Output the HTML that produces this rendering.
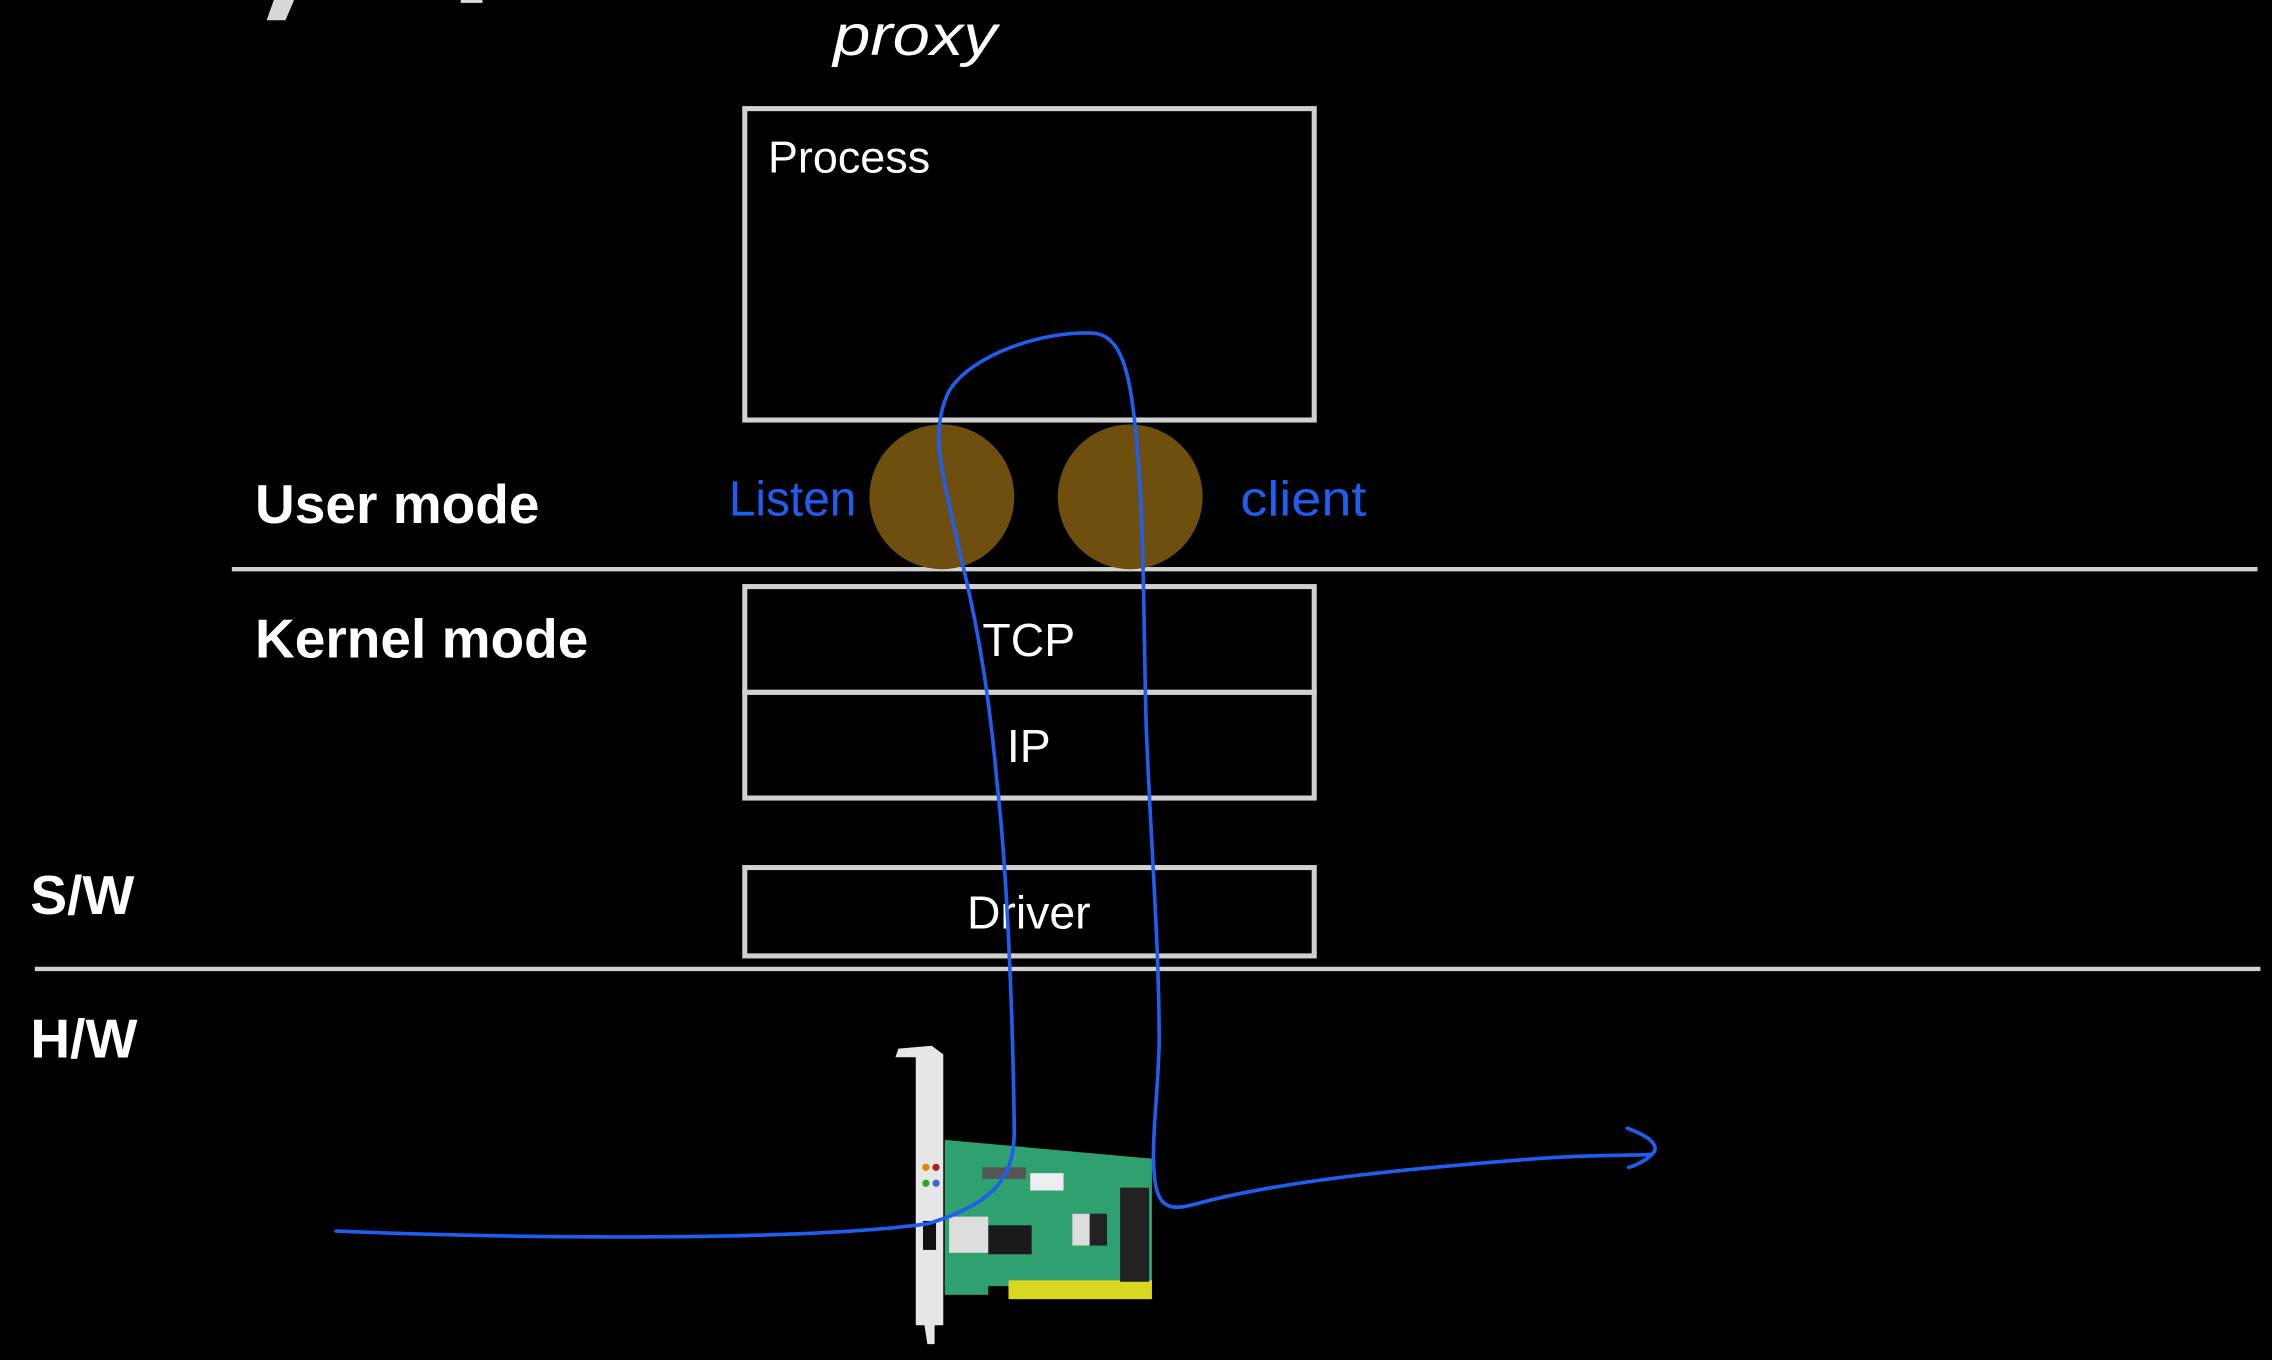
<!DOCTYPE html>
<html><head><meta charset="utf-8"><style>
html,body{margin:0;padding:0;background:#000;}
svg{display:block;}
</style></head><body>
<svg width="2272" height="1360" viewBox="0 0 1568 939" preserveAspectRatio="none" xmlns="http://www.w3.org/2000/svg">
<rect width="1568" height="939" fill="#000"/>
<g fill="#d8d8d8">
<polygon points="189,0 203,0 197,14 184,14"/>
<rect x="318" y="0" width="15" height="2"/>
</g>
<text x="575" y="38" textLength="113" lengthAdjust="spacingAndGlyphs" font-family="'Liberation Sans',sans-serif" font-size="40" fill="#fff" font-style="italic">proxy</text>
<rect x="514" y="75" width="393" height="215" fill="none" stroke="#d0d0d0" stroke-width="3.5"/>
<text x="530" y="119" font-family="'Liberation Sans',sans-serif" font-size="31" fill="#fff">Process</text>
<text x="176" y="361" font-family="'Liberation Sans',sans-serif" font-size="38" font-weight="bold" fill="#fff">User mode</text>
<line x1="160" y1="393" x2="1558" y2="393" stroke="#d0d0d0" stroke-width="3"/>
<text x="176" y="454" font-family="'Liberation Sans',sans-serif" font-size="38" font-weight="bold" fill="#fff">Kernel mode</text>
<circle cx="650" cy="343" r="50" fill="#6e4f0d"/>
<circle cx="780" cy="343" r="50" fill="#6e4f0d"/>
<text x="503" y="356" textLength="88" lengthAdjust="spacingAndGlyphs" font-family="'Liberation Sans',sans-serif" font-size="34" fill="#1f5ef0">Listen</text>
<text x="856" y="356" textLength="87" lengthAdjust="spacingAndGlyphs" font-family="'Liberation Sans',sans-serif" font-size="34" fill="#1f5ef0">client</text>
<rect x="514" y="405" width="393" height="73" fill="none" stroke="#d0d0d0" stroke-width="3.5"/>
<text x="710" y="453" text-anchor="middle" font-family="'Liberation Sans',sans-serif" font-size="32" fill="#fff">TCP</text>
<rect x="514" y="478" width="393" height="73" fill="none" stroke="#d0d0d0" stroke-width="3.5"/>
<text x="710" y="526" text-anchor="middle" font-family="'Liberation Sans',sans-serif" font-size="32" fill="#fff">IP</text>
<text x="21" y="631" font-family="'Liberation Sans',sans-serif" font-size="38" font-weight="bold" fill="#fff">S/W</text>
<rect x="514" y="599" width="393" height="61" fill="none" stroke="#d0d0d0" stroke-width="3.5"/>
<text x="710" y="641" text-anchor="middle" font-family="'Liberation Sans',sans-serif" font-size="32" fill="#fff">Driver</text>
<line x1="24" y1="669" x2="1560" y2="669" stroke="#d0d0d0" stroke-width="3"/>
<text x="21" y="730" font-family="'Liberation Sans',sans-serif" font-size="38" font-weight="bold" fill="#fff">H/W</text>
<g>
<polygon points="652,787 795,800 795,888 652,888" fill="#2fa070"/>
<rect x="696" y="884" width="99" height="13" fill="#d8d820"/>
<rect x="652" y="884" width="30" height="10" fill="#2fa070"/>
<rect x="773" y="820" width="20" height="65" fill="#222"/>
<rect x="682" y="846" width="30" height="20" fill="#1a1a1a"/>
<rect x="740" y="838" width="24" height="22" fill="#222"/>
<rect x="740" y="838" width="12" height="22" fill="#ddd"/>
<rect x="655" y="840" width="27" height="25" fill="#ddd"/>
<rect x="711" y="810" width="23" height="12" fill="#eee"/>
<rect x="678" y="806" width="30" height="8" fill="#555"/>
<polygon points="620,724 643,722 651,728 651,915 645,915 645,928 640,928 638,915 632,915 632,730 618,730" fill="#e6e6e6"/>
<circle cx="639" cy="806" r="2.5" fill="#d80"/><circle cx="646" cy="806" r="2.5" fill="#a22"/>
<circle cx="639" cy="817" r="2.5" fill="#2a2"/><circle cx="646" cy="817" r="2.5" fill="#46c"/>
<rect x="637" y="843" width="9" height="20" fill="#111"/>
</g>
<path d="M232,850 C380,856 560,856 640,845 C690,830 700,810 700,780 C699,700 695,600 688,540 C682,470 672,420 662,380 C652,330 640,300 655,270 C670,245 720,228 755,230 C775,232 780,260 784,300 C790,360 789,430 791,500 C794,580 800,650 800,720 C799,760 794,790 797,815 C800,838 812,835 830,830 C900,812 1000,805 1060,800 C1100,797 1130,798 1140,797" fill="none" stroke="#1f5ef0" stroke-width="2.5" stroke-linecap="round"/>
<path d="M1123,779 C1140,785 1146,792 1140,797 C1135,802 1128,805 1124,806" fill="none" stroke="#1f5ef0" stroke-width="2.5" stroke-linecap="round"/>
</svg>
</body></html>
